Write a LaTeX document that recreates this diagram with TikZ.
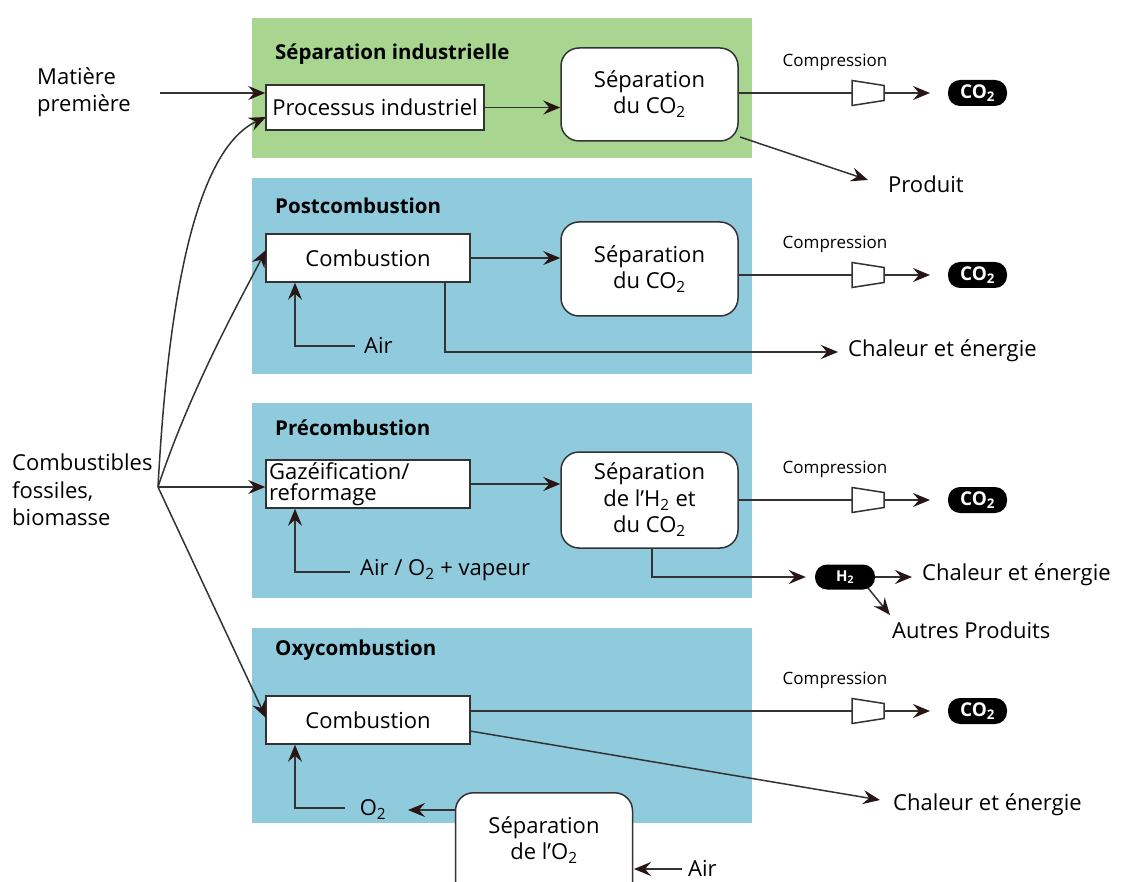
\documentclass[tikz,border=0pt]{standalone}
\usepackage{fontspec}
\setmainfont{Open Sans}
\usetikzlibrary{arrows.meta}
\newcommand\subtwo{\textsubscript{2}}
\definecolor{greenbg}{HTML}{A8D690}
\definecolor{bluebg}{HTML}{8FCBDD}
\definecolor{linec}{HTML}{333333}
\definecolor{tipc}{HTML}{2A1515}
\tikzset{
  hdr/.style={anchor=west, font=\fontsize{20.5}{24}\selectfont\bfseries, inner sep=0pt},
  txt/.style={font=\fontsize{22}{27}\selectfont, inner sep=0pt, align=left},
  sqbox/.style={draw=linec, line width=1.5pt, fill=white, font=\fontsize{22}{26}\selectfont, inner sep=0pt},
  rbox/.style={draw=linec, line width=1.5pt, fill=white, rounded corners=18pt, minimum width=177pt, font=\fontsize{22}{26}\selectfont, align=center, inner sep=0pt},
  pill/.style={fill=black, text=white, rounded corners=12pt, minimum width=59pt, minimum height=26pt, font=\fontsize{19}{22}\selectfont\bfseries, inner sep=0pt},
  comp/.style={font=\fontsize{17}{20}\selectfont, inner sep=0pt},
  ln/.style={draw=linec, line width=1.5pt},
  arr/.style={ln, -{Stealth[length=17pt, width=14pt, inset=6pt, color=tipc]}},
}
\begin{document}
\begin{tikzpicture}[x=1pt, y=-1pt]
\useasboundingbox (0,0) rectangle (1124,882);
% panels
\fill[greenbg] (252,18) rectangle (752,158);
\fill[bluebg] (252,178) rectangle (752,374);
\fill[bluebg] (252,403) rectangle (752,598);
\fill[bluebg] (252,628) rectangle (752,823);
\node[hdr] (h1) at (275,54) {Séparation industrielle};
\node[hdr] (h2) at (275,206) {Postcombustion};
\node[hdr] (h3) at (275,428) {Précombustion};
\node[hdr] (h4) at (275,650) {Oxycombustion};

% left inputs
\node[txt, align=left, anchor=west] (mp) at (37,92) {Matière\\première};
\coordinate (mpe) at (160,93);
\node[txt, align=left, anchor=west, font=\fontsize{22}{27.5}\selectfont] (cf) at (12,490) {Combustibles\\fossiles,\\biomasse};
\coordinate (fan) at (158,487);

% row 1
\node[sqbox, minimum width=218pt, minimum height=45pt] (pi) at (375,107.5) {Processus industriel};
\node[rbox, minimum height=93pt] (s1) at (649.5,94.5) {Séparation\\du CO\subtwo};
% row 2
\node[sqbox, minimum width=204pt, minimum height=48pt] (c2) at (368,258) {Combustion};
\node[rbox, minimum height=94pt] (s2) at (649.5,269) {Séparation\\du CO\subtwo};
% row 3
\node[sqbox, minimum width=204pt, minimum height=48pt, text width=198pt, align=left, font=\fontsize{22}{21}\selectfont] (g3) at (368,484) {Gazéification/\\reformage};
\node[rbox, minimum height=96pt, font=\fontsize{22}{26.5}\selectfont] (s3) at (649.5,500) {Séparation\\de l'H\subtwo{} et\\du CO\subtwo};
% row 4
\node[sqbox, minimum width=204pt, minimum height=48pt] (c4) at (368,720) {Combustion};
\node[rbox, minimum height=110pt, anchor=north] (s4) at (544,792) {};
\node[txt, align=center, font=\fontsize{22}{26}\selectfont] (s4t) at (544,840) {Séparation\\de l'O\subtwo};

% compression units
\foreach \i/\y in {1/93,2/275,3/500,4/711}{
  \draw[ln, fill=white] (852,\y-12.5) -- (884,\y-7.5) -- (884,\y+7.5) -- (852,\y+12.5) -- cycle;
  \coordinate (ci\i) at (852,\y);
  \coordinate (co\i) at (884,\y);
  \coordinate (ca\i) at (930,\y);
  \node[comp] (cl\i) at (835,\y-31) {Compression};
  \node[pill] (p\i) at (977.5,\y) {CO\subtwo};
  \draw[arr] (co\i) -- (ca\i);
}

% row 1 connectors
\draw[arr] (mpe) -- (pi.west |- mpe);
\draw[arr] (fan) .. controls (168,300) and (195,150) .. (266,117);
\draw[arr] (pi.east) -- (s1.west |- pi.east);
\draw[ln] (s1.east |- ci1) -- (ci1);
\coordinate (pr0) at (740,137);
\coordinate (pr1) at (868,180);
\draw[arr] (pr0) -- (pr1);
\node[txt, anchor=west] (prod) at (888,184) {Produit};

% row 2 connectors
\draw[arr] (fan) .. controls (190,390) and (240,300) .. (266,250);
\draw[arr] (c2.east) -- (c2.east -| s2.west);
\draw[ln] (s2.east |- ci2) -- (ci2);
\coordinate (a2a) at (295,346);
\coordinate (a2b) at (355,346);
\node[txt, anchor=west] (air2) at (364,345) {Air};
\draw[arr] (a2b) -- (a2a) -- (a2a |- c2.south);
\coordinate (h2a) at (445,282);
\coordinate (h2b) at (838,352);
\draw[arr] (h2a) |- (h2b);
\node[txt, anchor=west] (ce2) at (848,351) {Chaleur et énergie};

% row 3 connectors
\draw[arr] (fan) -- (g3.west |- fan);
\draw[arr] (g3.east) -- (g3.east -| s3.west);
\draw[ln] (s3.east |- ci3) -- (ci3);
\coordinate (a3a) at (295,572);
\coordinate (a3b) at (350,572);
\node[txt, anchor=west] (air3) at (360,570) {Air / O\subtwo{} + vapeur};
\draw[arr] (a3b) -- (a3a) -- (a3a |- g3.south);
\node[pill, minimum width=60pt, minimum height=25pt, font=\fontsize{15}{18}\selectfont\bfseries] (hp) at (845,577) {H\subtwo};
\coordinate (h3a) at (652,548);
\draw[arr] (h3a) |- ([xshift=-9pt]hp.west);
\coordinate (h3c) at (912,577);
\draw[arr] (hp.east) -- (h3c);
\node[txt, anchor=west] (ce3) at (922,575) {Chaleur et énergie};
\coordinate (ap0) at (868,588);
\coordinate (ap1) at (890,615);
\draw[arr] (ap0) -- (ap1);
\node[txt, anchor=west] (ap) at (892,630) {Autres Produits};

% row 4 connectors
\draw[arr] (fan) -- (266,718);
\draw[ln] (c4.east |- ci4) -- (ci4);
\coordinate (h4a) at (470,731);
\coordinate (h4b) at (880,800);
\draw[arr] (h4a) -- (h4b);
\node[txt, anchor=west] (ce4) at (893,805) {Chaleur et énergie};
\node[txt] (o2) at (373,810) {O\subtwo};
\coordinate (o2a) at (345,808);
\coordinate (o2b) at (295,808);
\draw[arr] (o2a) -- (o2b) -- (o2b |- c4.south);
\coordinate (o2c) at (408,810);
\draw[arr] (s4.west |- o2c) -- (o2c);
\coordinate (air4a) at (682,869);
\node[txt, anchor=west] (air4) at (688,868) {Air};
\draw[arr] (air4a) -- (634,869);
\end{tikzpicture}
\end{document}
